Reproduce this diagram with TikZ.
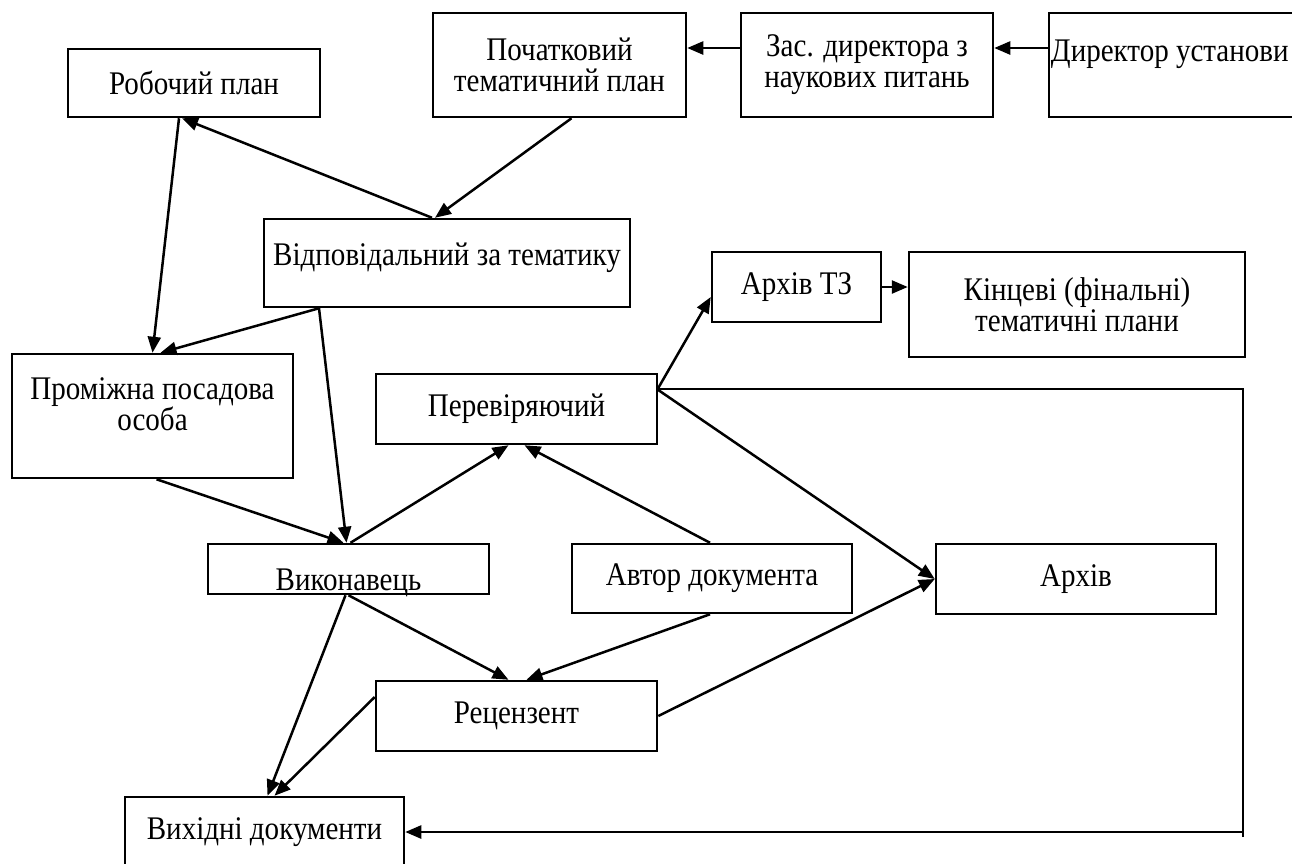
\documentclass[tikz,border=0pt]{standalone}
\usepackage{fontspec}
\setmainfont{Liberation Serif}[FakeStretch=0.88]
\usetikzlibrary{arrows.meta}
\definecolor{ink}{HTML}{000000}

\begin{document}
\begin{tikzpicture}[x=1pt, y=-1pt,
    font=\fontsize{33}{31}\selectfont,
    box/.style={draw=ink, line width=2.5pt, inner sep=0pt, align=center},
    link/.style={draw=ink, line width=2.5pt, -{Triangle[length=16pt,width=13pt]}},
    wire/.style={draw=ink, line width=2.5pt}]

  % === Document flow — who passes what to whom ===
  % Coordinates are in pixels, y grows downward

  \def\picW{1292}   % picture width
  \def\picH{863}    % picture height

  \useasboundingbox (0,0) rectangle (\picW,\picH);
  \clip (0,0) rectangle (\picW,\picH);

  % Top row (plans and management)
  \node[box, minimum width=252pt, minimum height=68pt] (rob) at (194,83) {Робочий план};
  \node[box, minimum width=253pt, minimum height=104pt] (poch) at (559.5,65)
    {Початковий\\тематичний план};
  \node[box, minimum width=252pt, minimum height=104pt] (zas) at (867,65)
    {Зас. директора з\\наукових питань};
  \node[box, minimum width=252pt, minimum height=104pt,
    label={[anchor=west, inner sep=3pt, yshift=11pt]west:Директор установи}] (dyr) at (1175,65) {};

  % Middle row
  \node[box, minimum width=366pt, minimum height=88pt,
    label={[yshift=5pt]center:Відповідальний за тематику}] (vid) at (447,263) {};
  \node[box, minimum width=169pt, minimum height=70pt] (arkhtz) at (796.5,287) {Архів ТЗ};
  \node[box, minimum width=336pt, minimum height=105pt] (kinc) at (1077,304.5)
    {Кінцеві (фінальні)\\тематичні плани};
  \node[box, minimum width=281pt, minimum height=124pt,
    label={[align=center, yshift=12pt]center:Проміжна посадова\\особа}] (prom) at (152.5,416) {};
  \node[box, minimum width=281pt, minimum height=70pt] (perev) at (516.5,409) {Перевіряючий};

  % Lower rows
  \node[box, minimum width=281pt, minimum height=50pt,
    label={[yshift=-14pt]center:Виконавець}] (vyk) at (348.5,569) {};
  \node[box, minimum width=280pt, minimum height=69pt] (avt) at (712,578.5) {Автор документа};
  \node[box, minimum width=280pt, minimum height=70pt] (arkh) at (1076,579) {Архів};
  \node[box, minimum width=281pt, minimum height=70pt] (rec) at (516.5,716) {Рецензент};
  \node[box, minimum width=279pt, minimum height=70pt] (vykh) at (264.5,832) {Вихідні документи};

  % === Connectors ===
  % management chain
  \draw[link] ([yshift=17pt]dyr.west) -- ([yshift=17pt]zas.east);
  \draw[link] ([yshift=17pt]zas.west) -- ([yshift=17pt]poch.east);
  \draw[link] ([xshift=12pt]poch.south) -- ([xshift=-12pt]vid.north);
  \draw[link] ([xshift=-15pt]vid.north) -- ([xshift=-12pt]rob.south);

  % down to the executor
  \draw[link] ([xshift=-15pt]rob.south) -- (prom.north);
  \draw[link] ([xshift=-128pt]vid.south) -- ([xshift=8pt]prom.north);
  \draw[link] ([xshift=-128pt]vid.south) -- ([xshift=-2pt]vyk.north);
  \draw[link] ([xshift=4pt]prom.south) -- ([xshift=-5pt]vyk.north);

  % checking
  \draw[link] ([xshift=2pt]vyk.north) -- ([xshift=-8pt]perev.south);
  \draw[link] ([xshift=-2pt]avt.north) -- ([xshift=8pt]perev.south);

  % review
  \draw[link] (vyk.south) -- ([xshift=-8pt]rec.north);
  \draw[link] ([xshift=-2pt]avt.south) -- ([xshift=10pt]rec.north);

  % output documents
  \draw[link] ([xshift=-3pt]vyk.south) -- ([xshift=3pt]vykh.north);
  \draw[link] ([yshift=19pt]rec.west) -- ([xshift=10pt]vykh.north);

  % archives
  \draw[link] (rec.east) -- (arkh.west);
  \draw[link] ([yshift=19pt]perev.east) -- (arkh.west);
  \draw[link] ([yshift=21pt]perev.east) -- ([yshift=-10pt]arkhtz.west);
  \draw[link] (arkhtz.east) -- (arkhtz.east -| kinc.west);

  % return loop along the right side
  \coordinate (loop) at (1243,389);
  \draw[link] ([yshift=20pt]perev.east) -- (loop) |- (vykh.east);
  \draw[wire] (loop |- vykh.east) -- ++(0,5);

\end{tikzpicture}
\end{document}
